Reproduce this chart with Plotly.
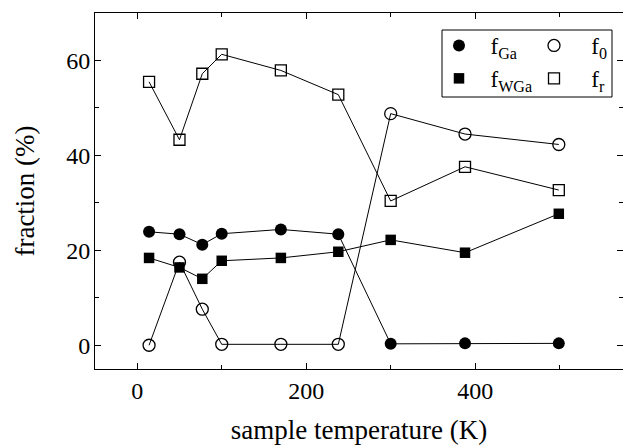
import plotly.graph_objects as go

# Data
temperature = [14, 50, 77, 100, 170, 238, 300, 388, 499]
f_Ga = [23.9, 23.4, 21.2, 23.5, 24.4, 23.4, 0.3, 0.4, 0.4]
f_WGa = [18.4, 16.4, 14.0, 17.8, 18.4, 19.7, 22.2, 19.5, 27.7]
f_0 = [0.0, 17.5, 7.6, 0.2, 0.2, 0.2, 48.8, 44.5, 42.3]
f_r = [55.5, 43.3, 57.2, 61.3, 57.9, 52.8, 30.4, 37.6, 32.7]

x_ticks = [0, 200, 400]
y_ticks = [0, 20, 40, 60]

series = [
    ("f<sub>Ga</sub>", f_Ga, dict(symbol="circle", size=12, color="black"), "legend", 2),
    ("f<sub>WGa</sub>", f_WGa, dict(symbol="square", size=10.5, color="black"), "legend", 2),
    ("f<sub>0</sub>", f_0, dict(symbol="circle-open", size=12, color="black", line=dict(width=1.3)), "legend2", 3),
    ("f<sub>r</sub>", f_r, dict(symbol="square-open", size=11, color="black", line=dict(width=1.3)), "legend2", 3),
]

FONT = "Liberation Serif"
W, H = 623, 446
L, R, T, B = 95, 0, 13, 77

fig = go.Figure()

for name, vals, marker, leg, pad in series:
    fig.add_trace(go.Scatter(
        x=temperature, y=vals, mode="lines+markers", name=name,
        line=dict(color="black", width=1), marker=marker, showlegend=False))
    # legend-only entry (markers without the line segment)
    fig.add_trace(go.Scatter(
        x=[None], y=[None], mode="markers", name="\u00a0" * pad + name,
        marker=marker, legend=leg, showlegend=True, hoverinfo="skip"))

# invisible trace to host the right-hand tick axis
fig.add_trace(go.Scatter(x=[None], y=[None], yaxis="y2", showlegend=False,
                         hoverinfo="skip", mode="markers"))

pw = W - L - R
ph = H - T - B


def px_x(p):
    return (p - L) / pw


def px_y(p):
    return (H - B - p) / ph


fig.update_layout(
    width=W, height=H,
    margin=dict(l=L, r=R, t=T, b=B, pad=0),
    paper_bgcolor="white", plot_bgcolor="white",
    font=dict(family=FONT, color="black", size=24),
    xaxis=dict(
        range=[-50, 575], tickmode="array", tickvals=x_ticks,
        ticks="inside", ticklen=6, tickwidth=1, tickcolor="black",
        showline=True, linecolor="black", linewidth=1, mirror="ticks",
        showgrid=False, zeroline=False,
        minor=dict(dtick=100, tick0=0, ticks="inside", ticklen=4, tickcolor="black"),
        tickfont=dict(family=FONT, size=24), ticklabelstandoff=0,
        title=dict(text="sample temperature (K)", font=dict(family=FONT, size=27), standoff=17),
    ),
    yaxis=dict(
        range=[-5, 70], tickmode="array", tickvals=y_ticks,
        ticks="inside", ticklen=6, tickwidth=1, tickcolor="black",
        showline=True, linecolor="black", linewidth=1, mirror=False,
        showgrid=False, zeroline=False,
        minor=dict(dtick=10, tick0=0, ticks="inside", ticklen=4, tickcolor="black"),
        tickfont=dict(family=FONT, size=24), ticklabelstandoff=-1,
        title=dict(text="fraction (%)", font=dict(family=FONT, size=27), standoff=23),
    ),
    yaxis2=dict(
        overlaying="y", side="right", matches="y", range=[-5, 70],
        tickmode="array", tickvals=y_ticks, showticklabels=False,
        ticks="inside", ticklen=6, tickwidth=1, tickcolor="black",
        showline=False, showgrid=False, zeroline=False,
        minor=dict(dtick=10, tick0=0, ticks="inside", ticklen=4, tickcolor="black"),
    ),
    legend=dict(
        x=px_x(439), y=px_y(24), xanchor="left", yanchor="top",
        bgcolor="rgba(0,0,0,0)", borderwidth=0,
        font=dict(family=FONT, size=23, color="black"),
        tracegroupgap=0,
    ),
    legend2=dict(
        x=px_x(534), y=px_y(24), xanchor="left", yanchor="top",
        bgcolor="rgba(0,0,0,0)", borderwidth=0,
        font=dict(family=FONT, size=23, color="black"),
        tracegroupgap=0,
    ),
    shapes=[dict(
        type="rect", xref="paper", yref="paper",
        x0=px_x(442), x1=px_x(612), y0=px_y(97), y1=px_y(30),
        line=dict(color="black", width=1), fillcolor="rgba(0,0,0,0)", layer="above",
    )],
    showlegend=True,
)

fig.write_html("out.html", config={"displayModeBar": False},
               post_script="document.body.style.margin='0px';")
